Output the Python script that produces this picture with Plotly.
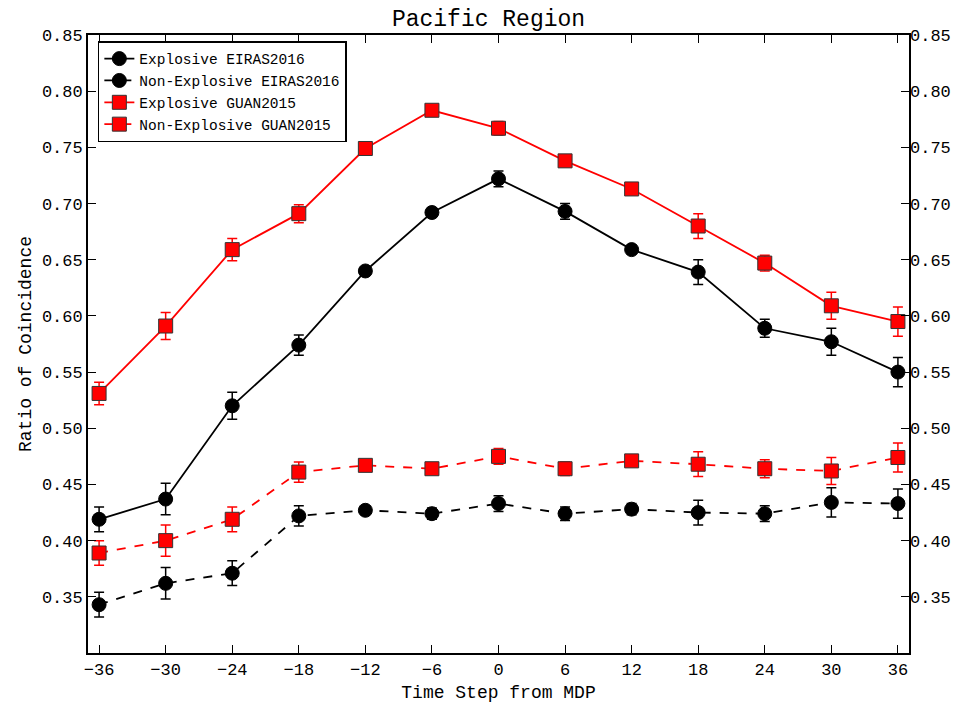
import plotly.graph_objects as go

steps = [-36, -30, -24, -18, -12, -6, 0, 6, 12, 18, 24, 30, 36]

exp_eiras = [0.419, 0.437, 0.520, 0.574, 0.640, 0.692, 0.722, 0.693, 0.659, 0.639, 0.589, 0.577, 0.550]
exp_eiras_err = [0.011, 0.014, 0.012, 0.009, 0.003, 0.004, 0.007, 0.007, 0.004, 0.011, 0.008, 0.012, 0.013]

nonexp_eiras = [0.343, 0.362, 0.371, 0.422, 0.427, 0.424, 0.433, 0.424, 0.428, 0.425, 0.424, 0.434, 0.433]
nonexp_eiras_err = [0.011, 0.014, 0.011, 0.009, 0.003, 0.005, 0.007, 0.006, 0.005, 0.011, 0.007, 0.013, 0.013]

exp_guan = [0.531, 0.591, 0.659, 0.691, 0.749, 0.783, 0.767, 0.738, 0.713, 0.680, 0.647, 0.609, 0.595]
exp_guan_err = [0.010, 0.012, 0.010, 0.008, 0.003, 0.003, 0.006, 0.005, 0.003, 0.011, 0.007, 0.012, 0.013]

nonexp_guan = [0.389, 0.400, 0.419, 0.461, 0.467, 0.464, 0.475, 0.464, 0.471, 0.468, 0.464, 0.462, 0.474]
nonexp_guan_err = [0.011, 0.014, 0.011, 0.009, 0.003, 0.003, 0.007, 0.006, 0.004, 0.011, 0.008, 0.012, 0.013]

y_ticks = [0.35, 0.40, 0.45, 0.50, 0.55, 0.60, 0.65, 0.70, 0.75, 0.80, 0.85]

FONT = "Liberation Mono"

fig = go.Figure()

def add(name, y, err, color, symbol, dash, mline):
    fig.add_trace(go.Scatter(
        x=steps, y=y, name=name, mode="lines+markers",
        line=dict(color=color, width=1.8, dash=dash),
        marker=dict(symbol=symbol, size=14, color=color,
                    line=dict(color=mline, width=1)),
        error_y=dict(type="data", array=err, visible=True,
                     color=color, thickness=1.5, width=5),
    ))

add("Explosive EIRAS2016", exp_eiras, exp_eiras_err, "black", "circle", "solid", "black")
add("Non-Explosive EIRAS2016", nonexp_eiras, nonexp_eiras_err, "black", "circle", "dash", "black")
add("Explosive GUAN2015", exp_guan, exp_guan_err, "#ff0000", "square", "solid", "#333333")
add("Non-Explosive GUAN2015", nonexp_guan, nonexp_guan_err, "#ff0000", "square", "dash", "#333333")

# invisible trace to carry the right-hand axis
fig.add_trace(go.Scatter(x=[None], y=[None], yaxis="y2", showlegend=False, hoverinfo="skip"))

yr = [0.30, 0.85]
fig.update_layout(
    width=961, height=703,
    margin=dict(l=80, r=60, t=27, b=53),
    paper_bgcolor="white", plot_bgcolor="white",
    font=dict(family=FONT, size=17, color="black"),
    title=dict(text="Pacific Region", x=0.5, xanchor="center", y=0.986, yanchor="middle",
               font=dict(family=FONT, size=23, color="black")),
    xaxis=dict(range=[-37, 37], tickvals=steps, ticks="inside", ticklen=8,
               tickwidth=1.2, tickcolor="black", showline=True, linecolor="black",
               linewidth=1.8, mirror="ticks", showgrid=False, zeroline=False,
               title=dict(text="Time Step from MDP", font=dict(family=FONT, size=18), standoff=6),
               tickfont=dict(family=FONT, size=17)),
    yaxis=dict(range=yr, tickvals=y_ticks, tickformat=".2f", ticks="inside", ticklen=8,
               tickwidth=1.2, tickcolor="black", showline=True, linecolor="black",
               linewidth=1.8, mirror="ticks", showgrid=False, zeroline=False,
               title=dict(text="Ratio of Coincidence", font=dict(family=FONT, size=18), standoff=6),
               tickfont=dict(family=FONT, size=17)),
    yaxis2=dict(range=yr, tickvals=y_ticks, tickformat=".2f", ticks="inside", ticklen=8,
                tickwidth=1.2, tickcolor="black", overlaying="y", side="right",
                showline=False, showgrid=False, zeroline=False,
                tickfont=dict(family=FONT, size=17)),
    legend=dict(x=0.012, y=0.99, xanchor="left", yanchor="top",
                bgcolor="white", bordercolor="black", borderwidth=1.5,
                font=dict(family=FONT, size=14.5, color="black"),
                tracegroupgap=0, itemwidth=30),
    showlegend=True,
)

fig.write_html("out.html")
